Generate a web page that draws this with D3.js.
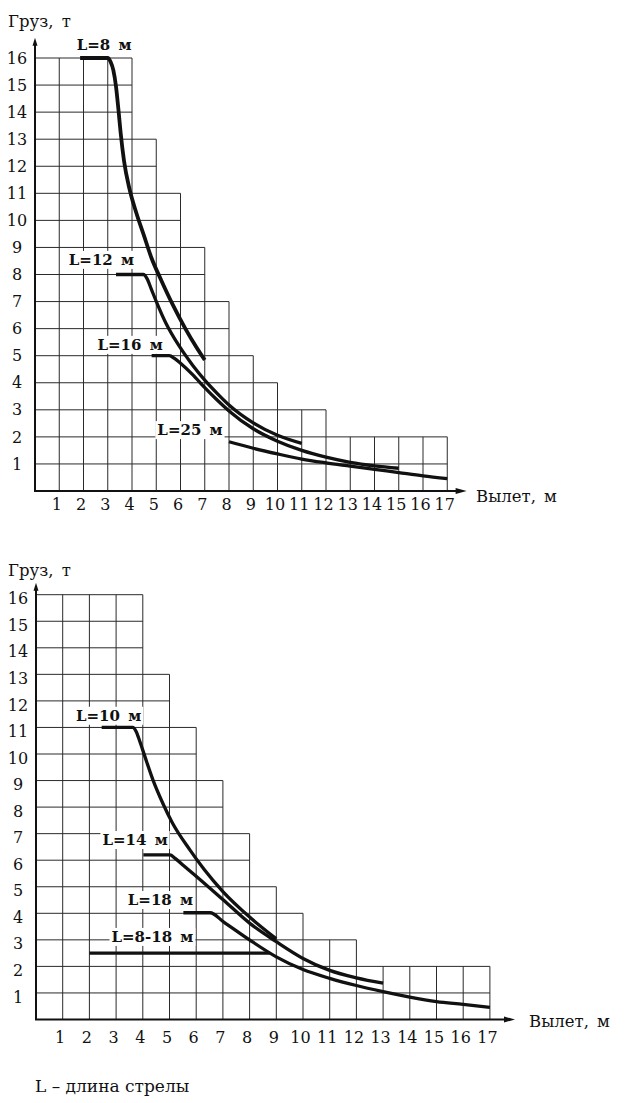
<!DOCTYPE html>
<html>
<head>
<meta charset="utf-8">
<script src="https://cdn.jsdelivr.net/npm/d3@7"></script>
<style>
  html, body { margin: 0; padding: 0; background: #fff; }
  text { font-family: "DejaVu Serif", "Liberation Serif", serif; fill: #111; }
</style>
</head>
<body>
<svg id="chart" width="626" height="1103"></svg>
<script>
// tick labels on both charts
const reachTicks = [1, 2, 3, 4, 5, 6, 7, 8, 9, 10, 11, 12, 13, 14, 15, 16, 17];
const loadTicks = [1, 2, 3, 4, 5, 6, 7, 8, 9, 10, 11, 12, 13, 14, 15, 16];

// stepped grid: height of every 1 m column, left to right
const gridTops = [16, 16, 16, 16, 13, 11, 9, 7, 5, 4, 3, 3, 2, 2, 2, 2, 2];

// upper chart, [reach m, load t]
const boom8 = [[1.86, 16], [3.0, 16], [3.12, 15.85], [3.23, 15.55], [3.34, 14.95], [3.44, 14.1],
  [3.53, 13.25], [3.67, 12.2], [3.9, 11.15], [4.17, 10.3], [4.47, 9.5], [4.8, 8.62],
  [5.2, 7.8], [5.7, 6.85], [6.2, 6.0], [6.65, 5.32], [7.0, 4.84]];
const boom12 = [[3.34, 8], [4.47, 8], [4.62, 7.85], [4.8, 7.45], [5.05, 6.9], [5.4, 6.2],
  [5.95, 5.35], [6.5, 4.65], [7.0, 4.1], [7.5, 3.62], [8.0, 3.18], [9, 2.52], [10, 2.06], [11, 1.76]];
const boom16 = [[4.81, 5], [5.54, 5], [5.75, 4.9], [6.0, 4.72], [6.5, 4.3], [7.0, 3.82],
  [7.5, 3.37], [8.0, 2.96], [9, 2.3], [10, 1.84], [11, 1.5], [12, 1.25], [13, 1.06],
  [14, 0.93], [15, 0.84]];
const boom25 = [[8, 1.82], [9, 1.58], [10, 1.37], [11, 1.18], [12, 1.04], [13, 0.92],
  [14, 0.8], [15, 0.68], [16, 0.56], [17, 0.46]];

// lower chart
const boom10 = [[2.46, 11], [3.62, 11], [3.75, 10.85], [3.88, 10.5], [4.08, 9.9], [4.39, 9.0],
  [4.77, 8.1], [5.1, 7.42], [5.77, 6.38], [6.3, 5.65], [7.0, 4.82], [8.0, 3.86], [9.0, 3.04]];
const boom14 = [[4.02, 6.2], [5.02, 6.2], [5.2, 6.08], [5.5, 5.82], [6.02, 5.38], [7.02, 4.5],
  [8.01, 3.62], [9.0, 2.93], [10, 2.3], [11, 1.85], [12, 1.57], [13, 1.37]];
const boom18 = [[5.52, 4.02], [6.52, 4.02], [7.02, 3.68], [8.01, 2.99], [9, 2.36], [10, 1.88],
  [11, 1.55], [12, 1.28], [13, 1.05], [14, 0.84], [15, 0.67], [16, 0.57], [17, 0.46]];
const boomAny = [[2.0, 2.5], [8.76, 2.5]];

const svg = d3.select("#chart");

const charts = [
  {
    xRange: [35, 447.25], yRange: [491, 58], yTop: 16.75, xEnd: 17.8,
    yLabelDy: 0, xPad: 8, title: [8, 27], xTitle: [476, 502],
    curves: [
      { pts: boom8, w: 3.8, label: "L=8 м", at: [2.85, 16.48] },
      { pts: boom12, w: 3.3, label: "L=12 м", at: [2.74, 8.54] },
      { pts: boom16, w: 3.3, label: "L=16 м", at: [3.92, 5.4] },
      { pts: boom25, w: 3.3, label: "L=25 м", at: [6.39, 2.25] }
    ]
  },
  {
    xRange: [36, 489.9], yRange: [1019.5, 594.7], yTop: 16.45, xEnd: 17.94,
    yLabelDy: 4, xPad: 12, title: [8, 576], xTitle: [529, 1027],
    curves: [
      { pts: boom10, w: 3.3, label: "L=10 м", at: [2.72, 11.44] },
      { pts: boom14, w: 3.3, label: "L=14 м", at: [3.71, 6.76] },
      { pts: boom18, w: 3.3, label: "L=18 м", at: [4.66, 4.5] },
      { pts: boomAny, w: 3.3, label: "L=8-18 м", at: [4.36, 3.11] }
    ]
  }
];

charts.forEach(drawChart);

// footnote
svg.append("text")
  .attr("x", 35).attr("y", 1092)
  .attr("font-size", 17)
  .text("L – длина стрелы");

function drawChart(cfg) {
  const x = d3.scaleLinear().domain([0, 17]).range(cfg.xRange);
  const y = d3.scaleLinear().domain([0, 16]).range(cfg.yRange);
  const g = svg.append("g");

  // grid, only inside the stepped outline
  const grid = g.append("g").attr("stroke", "#2a2a2a").attr("stroke-width", 1);
  loadTicks.forEach(k => {
    const reach = d3.max(gridTops, (t, i) => (t >= k ? i + 1 : 0));
    grid.append("line")
      .attr("x1", x(0)).attr("x2", x(reach))
      .attr("y1", y(k)).attr("y2", y(k));
  });
  reachTicks.forEach(k => {
    grid.append("line")
      .attr("x1", x(k)).attr("x2", x(k))
      .attr("y1", y(0)).attr("y2", y(gridTops[k - 1]));
  });

  // axes with arrows
  g.append("line")
    .attr("x1", x(0)).attr("x2", x(0))
    .attr("y1", y(0)).attr("y2", y(cfg.yTop) + 4)
    .attr("stroke", "#111").attr("stroke-width", 2);
  g.append("path")
    .attr("d", `M${x(0)},${y(cfg.yTop)} l-2.5,8 h5 Z`)
    .attr("fill", "#111");
  g.append("line")
    .attr("x1", x(0) - 1).attr("x2", x(cfg.xEnd) - 6)
    .attr("y1", y(0)).attr("y2", y(0))
    .attr("stroke", "#111").attr("stroke-width", 2);
  g.append("path")
    .attr("d", `M${x(cfg.xEnd)},${y(0)} l-11,-3 v6 Z`)
    .attr("fill", "#111");

  // tick labels
  g.append("g")
    .attr("transform", `translate(-3,${y(0)})`)
    .call(d3.axisBottom(x).tickValues(reachTicks).tickSize(0).tickPadding(cfg.xPad))
    .call(a => a.select(".domain").remove())
    .attr("font-size", 16);

  g.append("g")
    .attr("transform", `translate(${x(0)},${cfg.yLabelDy})`)
    .call(d3.axisLeft(y).tickValues(loadTicks).tickSize(0))
    .call(a => a.select(".domain").remove())
    .attr("font-size", 16)
    .selectAll("text")
    .attr("x", -18)
    .attr("text-anchor", "middle");

  // axis titles
  g.append("text")
    .attr("x", cfg.title[0]).attr("y", cfg.title[1])
    .attr("font-size", 16.5).attr("word-spacing", 3)
    .text("Груз, т");
  g.append("text")
    .attr("x", cfg.xTitle[0]).attr("y", cfg.xTitle[1])
    .attr("font-size", 16.5).attr("word-spacing", 3)
    .text("Вылет, м");

  // boom labels on white patches
  cfg.curves.forEach(c => {
    const t = g.append("text")
      .attr("x", x(c.at[0])).attr("y", y(c.at[1]))
      .attr("text-anchor", "middle")
      .attr("dominant-baseline", "central")
      .attr("font-size", 15)
      .attr("font-weight", "bold")
      .attr("word-spacing", 3)
      .text(c.label);
    const b = t.node().getBBox();
    g.insert("rect", () => t.node())
      .attr("x", b.x - 2).attr("y", b.y)
      .attr("width", b.width + 4).attr("height", b.height)
      .attr("fill", "#fff");
  });

  // load curves
  const line = d3.line()
    .x(d => x(d[0]))
    .y(d => y(d[1]))
    .curve(d3.curveMonotoneX);

  g.append("g")
    .selectAll("path")
    .data(cfg.curves)
    .join("path")
    .attr("d", c => line(c.pts))
    .attr("fill", "none")
    .attr("stroke", "#111")
    .attr("stroke-width", c => c.w);
}
</script>
</body>
</html>
